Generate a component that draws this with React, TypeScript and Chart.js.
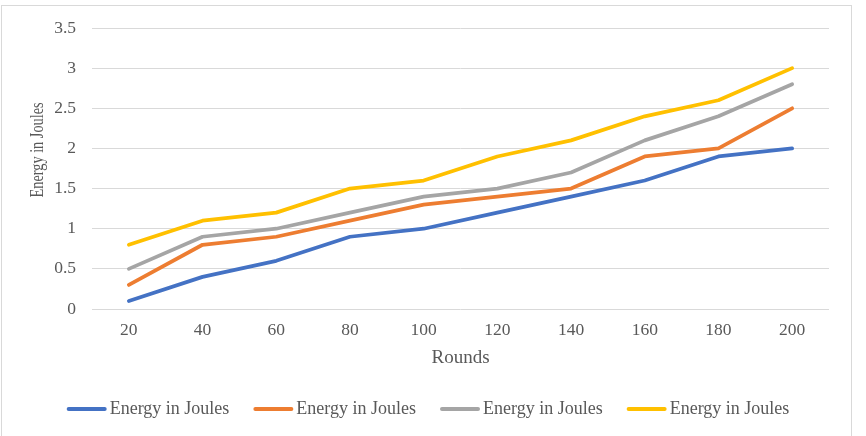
import React, { useEffect, useRef } from "react";
import { Chart, registerables } from "chart.js";

Chart.register(...registerables);

// Round counts along the x axis
const rounds = ["20", "40", "60", "80", "100", "120", "140", "160", "180", "200"];

// Energy consumed (J) for each of the four runs
const energyRun1 = [0.1, 0.4, 0.6, 0.9, 1.0, 1.2, 1.4, 1.6, 1.9, 2.0];
const energyRun2 = [0.3, 0.8, 0.9, 1.1, 1.3, 1.4, 1.5, 1.9, 2.0, 2.5];
const energyRun3 = [0.5, 0.9, 1.0, 1.2, 1.4, 1.5, 1.7, 2.1, 2.4, 2.8];
const energyRun4 = [0.8, 1.1, 1.2, 1.5, 1.6, 1.9, 2.1, 2.4, 2.6, 3.0];

const seriesLabels = ["Energy in Joules", "Energy in Joules", "Energy in Joules", "Energy in Joules"];
const seriesColors = ["#4472C4", "#ED7D31", "#A5A5A5", "#FFC000"];

const yMin = 0;
const yMax = 3.5;
const yStep = 0.5;

const xTitle = "Rounds";
const yTitle = "Energy in Joules";

const FONT = "'Liberation Serif', 'Times New Roman', serif";
const TEXT_COLOR = "#595959";
const GRID_COLOR = "#D9D9D9";

// Rotated y-axis title, centred a little above the middle of the plot area
const yTitlePlugin = {
  id: "yTitleText",
  afterDraw(chart: any) {
    const { ctx, chartArea } = chart;
    const cy = chartArea.top + (chartArea.bottom - chartArea.top) * 0.434;
    ctx.save();
    ctx.translate(38.5, cy);
    ctx.rotate(-Math.PI / 2);
    ctx.scale(1, 1.3);
    ctx.font = `14.3px ${FONT}`;
    ctx.fillStyle = TEXT_COLOR;
    ctx.textAlign = "center";
    ctx.textBaseline = "middle";
    ctx.fillText(yTitle, 0, 0);
    ctx.restore();
  },
};

// Legend with a short line sample followed by the series name
const lineLegendPlugin = {
  id: "lineLegend",
  afterDraw(chart: any) {
    const ctx = chart.ctx;
    const sets = chart.data.datasets;
    const lineLen = 40;
    const textGap = 3;
    const itemGap = 24;
    const y = 409;
    ctx.save();
    ctx.font = `18px ${FONT}`;
    const widths = sets.map((d: any) => lineLen + textGap + ctx.measureText(d.label).width);
    const total = widths.reduce((a: number, b: number) => a + b, 0) + itemGap * (sets.length - 1);
    let x = 428 - total / 2;
    sets.forEach((d: any, i: number) => {
      ctx.strokeStyle = d.borderColor;
      ctx.lineWidth = 4;
      ctx.lineCap = "round";
      ctx.beginPath();
      ctx.moveTo(x + 2, y);
      ctx.lineTo(x + lineLen - 2, y);
      ctx.stroke();
      ctx.fillStyle = TEXT_COLOR;
      ctx.textAlign = "left";
      ctx.textBaseline = "middle";
      ctx.fillText(d.label, x + lineLen + textGap, y);
      x += widths[i] + itemGap;
    });
    ctx.restore();
  },
};

export default function App() {
  const canvasRef = useRef<HTMLCanvasElement | null>(null);

  useEffect(() => {
    if (!canvasRef.current) return;
    const runs = [energyRun1, energyRun2, energyRun3, energyRun4];
    const chart = new Chart(canvasRef.current, {
      type: "line",
      data: {
        labels: rounds,
        datasets: runs.map((values, i) => ({
          label: seriesLabels[i],
          data: values,
          borderColor: seriesColors[i],
          backgroundColor: seriesColors[i],
          borderWidth: 3.75,
          borderCapStyle: "round" as const,
          borderJoinStyle: "round" as const,
          pointRadius: 0,
          pointHoverRadius: 0,
          tension: 0,
          fill: false,
        })),
      },
      options: {
        responsive: false,
        animation: false,
        layout: { padding: { left: 0, right: 37, top: 28, bottom: 67 } },
        plugins: {
          legend: { display: false },
          tooltip: { enabled: false },
        },
        scales: {
          x: {
            type: "category",
            offset: true,
            grid: { display: false, drawTicks: false },
            border: { display: false },
            ticks: {
              color: TEXT_COLOR,
              font: { family: FONT, size: 17.5 },
              padding: 11,
              maxRotation: 0,
            },
            title: {
              display: true,
              text: xTitle,
              color: TEXT_COLOR,
              font: { family: FONT, size: 19 },
              padding: { top: 0, bottom: 0 },
            },
            afterFit(scale: any) {
              scale.height = 60;
            },
          },
          y: {
            min: yMin,
            max: yMax,
            grid: { color: GRID_COLOR, lineWidth: 1, drawTicks: false },
            border: { display: false },
            ticks: {
              stepSize: yStep,
              color: TEXT_COLOR,
              font: { family: FONT, size: 17.5 },
              padding: 16,
              callback: (value: any) => String(Number(value)),
            },
            afterFit(scale: any) {
              scale.width = 92;
            },
          },
        },
      },
      plugins: [yTitlePlugin, lineLegendPlugin],
    });
    return () => chart.destroy();
  }, []);

  return (
    <div
      style={{
        position: "absolute",
        left: 0,
        top: 0,
        width: 866,
        height: 436,
        overflow: "hidden",
        background: "#ffffff",
      }}
    >
      <div
        style={{
          position: "absolute",
          left: 1,
          top: 5,
          width: 851,
          height: 445,
          boxSizing: "border-box",
          border: "1px solid #D9D9D9",
        }}
      />
      <canvas
        ref={canvasRef}
        width={866}
        height={436}
        style={{ position: "absolute", left: 0, top: 0, width: 866, height: 436 }}
      />
    </div>
  );
}
